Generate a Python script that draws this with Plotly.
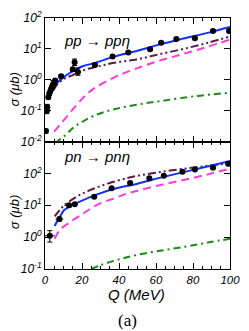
import plotly.graph_objects as go

# ---------------- data: pp -> pp eta (top panel) ----------------
pp_q = [0.5, 1.0, 1.2, 1.8, 2.3, 2.8, 3.3, 3.8, 4.3, 5.0, 5.5, 8.7, 15.0, 16.0, 17.8,
        27.0, 36.5, 45.0, 56.8, 62.8, 71.0, 81.0, 90.8, 99.5]
pp_sig = [0.022, 0.10, 0.13, 0.27, 0.35, 0.42, 0.50, 0.60, 0.70, 0.80, 0.95, 1.3, 2.2, 3.7, 1.8,
          3.0, 5.7, 7.6, 9.8, 15.9, 21.0, 22.0, 38.0, 38.0]
pp_err_up = [0.003, 0.03, 0.03, 0.03, 0.04, 0.04, 0.05, 0.06, 0.25, 0.08, 0.10, 0.15, 0.3, 1.0, 0.6,
             0.3, 0.5, 0.7, 0.9, 1.4, 1.8, 2.0, 3.0, 3.0]
pp_err_dn = [0.003, 0.02, 0.03, 0.03, 0.04, 0.04, 0.05, 0.06, 0.15, 0.08, 0.10, 0.15, 0.3, 0.8, 0.4,
             0.3, 0.5, 0.7, 0.9, 1.4, 1.8, 2.0, 3.0, 3.0]

pp_blue_q = [4.3, 5.0, 7.0, 10.0, 13.0, 20.0, 27.0, 36.5, 49.5, 62.0, 75.5, 88.0, 100.0]
pp_blue = [0.55, 0.65, 0.85, 1.2, 1.6, 2.7, 3.5, 5.4, 8.6, 14.0, 22.0, 33.0, 51.0]

pp_maroon_q = [4.5, 6.0, 8.0, 11.3, 15.0, 19.0, 23.5, 30.0, 36.5, 49.5, 62.0, 75.5, 88.0, 100.0]
pp_maroon = [0.45, 0.63, 0.85, 1.15, 1.41, 1.82, 2.29, 2.82, 3.47, 4.57, 6.76, 10.2, 15.8, 25.1]

pp_pink_q = [5.0, 8.0, 10.4, 15.6, 20.0, 26.0, 37.5, 49.5, 62.0, 75.5, 88.0, 100.0]
pp_pink = [0.021, 0.035, 0.051, 0.12, 0.24, 0.50, 1.2, 2.34, 4.17, 7.08, 11.7, 20.0]

pp_green_q = [5.5, 10.4, 15.6, 20.0, 27.0, 37.5, 50.0, 63.5, 81.0, 100.0]
pp_green = [0.0089, 0.015, 0.029, 0.043, 0.071, 0.112, 0.158, 0.209, 0.295, 0.38]

# ---------------- data: pn -> pn eta (bottom panel) ----------------
pn_q = [2.6, 7.8, 13.0, 16.1, 26.6, 36.0, 46.0, 56.4, 64.2, 74.3, 81.0, 90.8, 99.0]
pn_sig = [1.1, 3.7, 10.0, 10.7, 18.7, 34.0, 50.0, 71.0, 85.0, 112.0, 132.0, 151.0, 200.0]
pn_qerr = [2.6, 2.1, 2.6, 0, 0, 0, 0, 0, 0, 0, 0, 0, 0]
pn_err_up = [0.5, 0.5, 1.2, 0.8, 1.2, 2, 3, 4, 5, 7, 8, 9, 12]
pn_err_dn = [0.4, 0.5, 1.2, 0.8, 1.2, 2, 3, 4, 5, 7, 8, 9, 12]

pn_blue_q = [5.2, 7.8, 10.4, 13.0, 18.2, 28.6, 37.5, 49.5, 62.0, 75.5, 88.0, 100.0]
pn_blue = [2.24, 4.17, 7.08, 8.9, 12.6, 22.4, 33.1, 46.8, 72.4, 112.0, 166.0, 245.0]

pn_maroon_q = [5.2, 8.0, 10.4, 16.5, 23.4, 33.9, 44.3, 49.5, 62.0, 75.5, 88.0, 100.0]
pn_maroon = [4.47, 7.08, 10.0, 17.8, 28.2, 47.9, 70.8, 83.2, 110.0, 141.0, 174.0, 209.0]

pn_pink_q = [5.2, 8.0, 13.0, 20.8, 28.6, 37.5, 44.3, 49.5, 62.0, 75.5, 88.0, 100.0]
pn_pink = [0.89, 1.66, 2.82, 5.62, 10.7, 16.6, 23.4, 28.2, 42.7, 63.1, 93.3, 141.0]

pn_green_q = [25.0, 30.0, 40.0, 49.5, 62.0, 75.5, 88.0, 100.0]
pn_green = [0.1, 0.132, 0.2, 0.275, 0.372, 0.5, 0.676, 0.89]

top_tickvals = [0.01, 0.1, 1, 10, 100]
top_ticktext = ["10<sup>-2</sup>", "10<sup>-1</sup>", "10<sup>0</sup>", "10<sup>1</sup>", "10<sup>2</sup>"]
bot_tickvals = [0.1, 1, 10, 100]
bot_ticktext = ["10<sup>-1</sup>", "10<sup>0</sup>", "10<sup>1</sup>", "10<sup>2</sup>"]
x_tickvals = [0, 20, 40, 60, 80, 100]

BLUE = "#1030ff"
MAROON = "#5c1a44"
PINK = "#ff3ad8"
GREEN = "#1a8a1a"

fig = go.Figure()


def add_curves(qb, b, qm, m, qp, p, qg, g, xa, ya):
    fig.add_trace(go.Scatter(x=qg, y=g, mode="lines", xaxis=xa, yaxis=ya,
                             line=dict(color=GREEN, width=2, dash="7px,4px,2px,4px", shape="spline")))
    fig.add_trace(go.Scatter(x=qp, y=p, mode="lines", xaxis=xa, yaxis=ya,
                             line=dict(color=PINK, width=2, dash="8px,5px", shape="spline")))
    fig.add_trace(go.Scatter(x=qm, y=m, mode="lines", xaxis=xa, yaxis=ya,
                             line=dict(color=MAROON, width=2, dash="8px,3px,2px,3px,2px,3px", shape="spline")))
    fig.add_trace(go.Scatter(x=qb, y=b, mode="lines", xaxis=xa, yaxis=ya,
                             line=dict(color=BLUE, width=2, shape="spline")))


add_curves(pp_blue_q, pp_blue, pp_maroon_q, pp_maroon, pp_pink_q, pp_pink,
           pp_green_q, pp_green, "x2", "y2")
add_curves(pn_blue_q, pn_blue, pn_maroon_q, pn_maroon, pn_pink_q, pn_pink,
           pn_green_q, pn_green, "x", "y")

fig.add_trace(go.Scatter(x=pp_q, y=pp_sig, mode="markers", xaxis="x2", yaxis="y2",
                         marker=dict(color="black", size=6),
                         error_y=dict(type="data", array=pp_err_up, arrayminus=pp_err_dn,
                                      color="black", thickness=1, width=2.5)))
fig.add_trace(go.Scatter(x=pn_q, y=pn_sig, mode="markers", xaxis="x", yaxis="y",
                         marker=dict(color="black", size=6),
                         error_x=dict(type="data", array=pn_qerr, color="black", thickness=1, width=0),
                         error_y=dict(type="data", array=pn_err_up, arrayminus=pn_err_dn,
                                      color="black", thickness=1, width=2.5)))

SPLIT = 132 / 260

tickfont = dict(family="Liberation Sans", size=11.5, color="black", style="italic")
common_x = dict(range=[0, 100], tickmode="array", tickvals=x_tickvals, ticks="inside",
                ticklen=6, tickwidth=1, tickcolor="black", showline=True, linecolor="black",
                linewidth=1, mirror="allticks", showgrid=False, zeroline=False,
                minor=dict(tickmode="linear", tick0=0, dtick=5, ticks="inside", ticklen=3,
                           tickwidth=1, tickcolor="black", showgrid=False),
                tickfont=tickfont)
common_y = dict(type="log", tickmode="array", ticks="inside", ticklen=6, tickwidth=1,
                tickcolor="black", showline=True, linecolor="black", linewidth=1,
                mirror="allticks", showgrid=False, zeroline=False,
                tickfont=dict(family="Liberation Sans", size=12, color="black", style="italic"))

fig.update_layout(
    width=249, height=331,
    margin=dict(l=45, r=12, t=9, b=62),
    paper_bgcolor="white", plot_bgcolor="white",
    showlegend=False,
    xaxis=dict(common_x, anchor="y", domain=[0, 1], showticklabels=True),
    yaxis=dict(common_y, anchor="x", domain=[0, SPLIT], range=[-1, 3],
               tickvals=bot_tickvals, ticktext=bot_ticktext),
    xaxis2=dict(common_x, anchor="y2", domain=[0, 1], showticklabels=False),
    yaxis2=dict(common_y, anchor="x2", domain=[SPLIT, 1], range=[-2, 2],
                tickvals=top_tickvals, ticktext=top_ticktext),
)

ann_font = dict(family="Liberation Sans", size=15, color="black", style="italic")
fig.add_annotation(text="pp → ppη", xref="paper", yref="paper", x=0.094, y=(269 - 32) / 260,
                   xanchor="left", yanchor="middle", showarrow=False, font=ann_font)
fig.add_annotation(text="pn → pnη", xref="paper", yref="paper", x=0.094, y=(269 - 152) / 260,
                   xanchor="left", yanchor="middle", showarrow=False, font=ann_font)
yt_font = dict(family="Liberation Sans", size=13, color="black", style="italic")
fig.add_annotation(text="σ (μb)", xref="paper", yref="paper", x=(13 - 45) / 192, y=(269 - 83) / 260,
                   xanchor="center", yanchor="middle", textangle=-90, showarrow=False, font=yt_font)
fig.add_annotation(text="σ (μb)", xref="paper", yref="paper", x=(13 - 45) / 192, y=(269 - 210) / 260,
                   xanchor="center", yanchor="middle", textangle=-90, showarrow=False, font=yt_font)
fig.add_annotation(text="Q (MeV)", xref="paper", yref="paper", x=(140 - 45) / 192, y=(269 - 295) / 260,
                   xanchor="center", yanchor="middle", showarrow=False,
                   font=dict(family="Liberation Sans", size=15, color="black", style="italic"))
fig.add_annotation(text="(a)", xref="paper", yref="paper", x=(131 - 45) / 192, y=(269 - 322) / 260,
                   xanchor="center", yanchor="middle", showarrow=False,
                   font=dict(family="Liberation Serif", size=17, color="black"))

fig.write_html("out.html", config={"displayModeBar": False},
               post_script="document.body.style.margin='0';document.body.style.overflow='hidden';")
